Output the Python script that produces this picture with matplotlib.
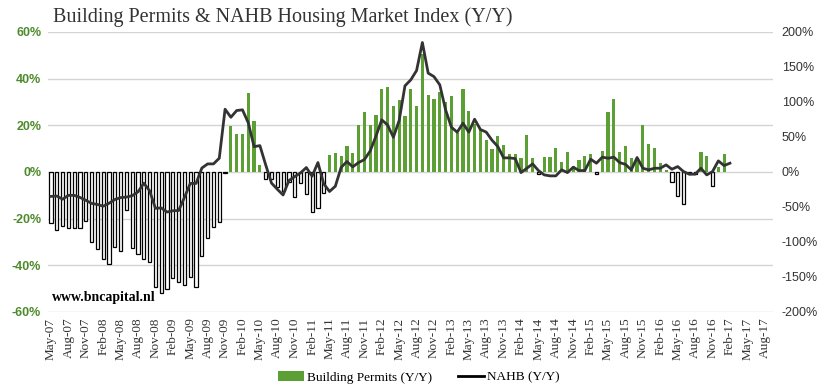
import matplotlib

matplotlib.use("Agg")
import matplotlib.pyplot as plt
import numpy as np
import pandas as pd
from matplotlib.lines import Line2D
from matplotlib.patches import Patch

# monthly category axis, May-07 .. Sep-17
months = pd.date_range("2007-05-01", "2017-09-01", freq="MS")
month_labels = [d.strftime("%b-%y") for d in months]

# Building permits, Y/Y % (May-07 .. Jan-17)
permits = [
    -22, -25, -23, -24, -24, -24, -21, -30, -33, -37.3, -39.6, -32, -33.7, -16.3,
    -32.7, -35.3, -37.3, -38.7, -49.1, -52, -50.3, -45.3, -47, -48.4, -44.9, -49.4,
    -36, -28.4, -23.7, -21.3, -0.5, 19.7, 16.3, 16.3, 34, 21.8, 3, -2.9, -2.9, -6.3,
    -8, -4.5, -10.6, -4.8, -9.5, -17, -15.6, -9.2, 7.2, 8.1, 7, 11.2, 8.1, 20.2,
    25.8, 20, 24.2, 35.3, 36.4, 28.4, 30.6, 24.1, 35.3, 28.4, 50.7, 33.1, 31.4, 34.4,
    29.8, 32.3, 16.7, 35.7, 26, 20.3, 18.2, 13.8, 10, 15.2, 11.7, 7.8, 7.8, 6, 15.6,
    6, -1, 6.4, 6.4, 10.3, 4.3, 8.7, 2.5, 5.3, 7, 7.8, -1, 9.1, 25.6, 31.4, 8.4,
    11.3, 6.1, 5, 19.9, 12.1, 10.4, 3.9, 0.7, -4.3, -10.3, -13.7, -1, -1, 8.4, 7,
    -6.1, 2.1, 7.8,
]

# NAHB housing market index, Y/Y % (May-07 .. Feb-17)
nahb = [
    -35, -34.5, -39, -33.5, -33.5, -36.5, -40.5, -45, -46.5, -49, -44.8, -39.5,
    -36.7, -36, -34, -28.5, -16.2, -27, -52, -51.5, -57.3, -55.5, -55.2, -36.5,
    -16.5, -16.5, 5.5, 11.4, 11.4, 19.5, 89.5, 78, 87.6, 88.6, 70, 36, 37.5, 10,
    -16, -24.8, -33, -12.4, -6.7, -1.5, 6.2, -6.2, 13.3, -17, -28, -20.5, 6.4,
    14.8, 7.2, 13.3, 17.5, 29.7, 51, 74.3, 67, 49.5, 73.3, 122.9, 131.4, 144.7,
    184.7, 141, 136, 124.3, 88.6, 63.8, 56.7, 69.5, 56.7, 75.2, 60.5, 56.8, 45.2,
    36.2, 20, 20, 19, -1, 5.2, 11.4, 1.9, -4.3, -5.7, -5.7, 2.9, -1, 6.7, 1.9,
    1.9, 18.1, 12.4, 21, 19.5, 21, 13.3, 10.7, 2.9, 20.5, 5.2, 2.9, 5.2, 5.2, 10,
    3.8, 7.6, 0.5, -3.3, -3.3, 5.2, -4.3, 0.5, 15.7, 9, 12.4,
]

left_ticks = [-60, -40, -20, 0, 20, 40, 60]
right_ticks = [-200, -150, -100, -50, 0, 50, 100, 150, 200]

GREEN = "#5b9f35"
LINE = "#333333"
GRID = "#d4d4d4"
SERIF = ["Liberation Serif", "DejaVu Serif"]
SANS = ["Liberation Sans", "DejaVu Sans"]

fig = plt.figure(figsize=(8.29, 3.88), dpi=100)
ax = fig.add_axes([0.058, 0.196, 0.875, 0.722])
ax2 = ax.twinx()

x_bar = np.arange(len(permits))
vals = np.asarray(permits)
pos = vals >= 0
ax.bar(x_bar[pos], vals[pos], width=0.55, color=GREEN, zorder=2)
ax.bar(x_bar[~pos], vals[~pos], width=0.55, facecolor="white",
       edgecolor="black", linewidth=0.9, zorder=2)

ax2.plot(np.arange(len(nahb)), nahb, color=LINE, lw=2.0, zorder=3)

ax.set_xlim(-0.5, len(months) - 0.5)
ax.set_ylim(-60, 60)
ax2.set_ylim(-200, 200)
ax.set_yticks(left_ticks)
ax.set_yticklabels([f"{t}%" for t in left_ticks], color="#4e8a2c",
                   fontsize=9, fontweight="bold", family=SANS)
ax2.set_yticks(right_ticks)
ax2.set_yticklabels([f"{t}%" for t in right_ticks], color="#333333",
                    fontsize=9, family=SANS)
ax.set_xticks(np.arange(0, len(months), 3))
ax.set_xticklabels(month_labels[::3], rotation=90, fontsize=9.5,
                   family=SERIF, color="#333333")

for a in (ax, ax2):
    for s in a.spines.values():
        s.set_visible(False)
    a.tick_params(length=0)
ax.tick_params(axis="y", pad=5)
ax2.tick_params(axis="y", pad=6)
ax.tick_params(axis="x", pad=4)
ax.grid(axis="y", color=GRID, lw=1, zorder=0)
ax.set_axisbelow(True)
ax2.set_zorder(ax.get_zorder() + 1)
ax2.patch.set_visible(False)

fig.text(0.064, 0.955, "Building Permits & NAHB Housing Market Index (Y/Y)",
         family=SERIF, fontsize=14.5, color="#333333", va="center")
ax.text(0.2, -55.5, "www.bncapital.nl", family=SERIF, fontsize=10,
        fontweight="bold", color="black")

handles = [Patch(facecolor=GREEN, label="Building Permits (Y/Y)"),
           Line2D([0], [0], color="black", lw=2, label="NAHB (Y/Y)")]
fig.legend(handles=handles, loc="center", bbox_to_anchor=(0.505, 0.027), ncol=2,
           frameon=False, prop={"family": SERIF, "size": 9.5}, handlelength=2.0,
           handletextpad=0.2, columnspacing=2.0)

fig.savefig("out.png", dpi=100)
